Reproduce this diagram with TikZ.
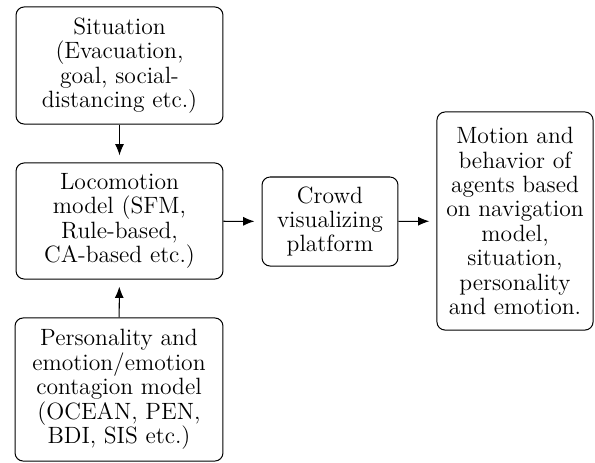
\documentclass[tikz,border=0pt]{standalone}
\usetikzlibrary{arrows.meta}
\begin{document}
\begin{tikzpicture}[x=0.492pt,y=-0.492pt,
  box/.style={draw,rounded corners=4pt,align=center,inner sep=0pt,line width=0.5pt,
    font=\fontsize{11.6}{12}\selectfont},
  conn/.style={-{Latex[length=5.5pt,width=4.4pt]},line width=0.5pt,shorten >=3.5pt}]
\useasboundingbox (0,0) rectangle (595,462);
\node[box,minimum width=101.8pt,minimum height=57.6pt] (sit) at (119.5,65.5)
  {Situation\\(Evacuation,\\goal, social-\\distancing etc.)};
\node[box,minimum width=101.8pt,minimum height=57.1pt] (loco) at (119.5,221)
  {Locomotion\\model (SFM,\\Rule-based,\\CA-based etc.)};
\node[box,minimum width=102.3pt,minimum height=70.4pt] (pers) at (119,389.5)
  {Personality and\\emotion/emotion\\contagion model\\(OCEAN, PEN,\\BDI, SIS etc.)};
\node[box,minimum width=66.9pt,minimum height=43.8pt] (crowd) at (330,221.5)
  {Crowd\\visualizing\\platform};
\node[box,minimum width=76.8pt,minimum height=107.3pt] (motion) at (515,221)
  {Motion and\\behavior of\\agents based\\on navigation\\model,\\situation,\\personality\\and emotion.};
\draw[conn] (sit) -- (loco);
\draw[conn] (pers) -- (loco);
\draw[conn] (loco) -- (crowd);
\draw[conn] (crowd) -- (motion);
\end{tikzpicture}
\end{document}
